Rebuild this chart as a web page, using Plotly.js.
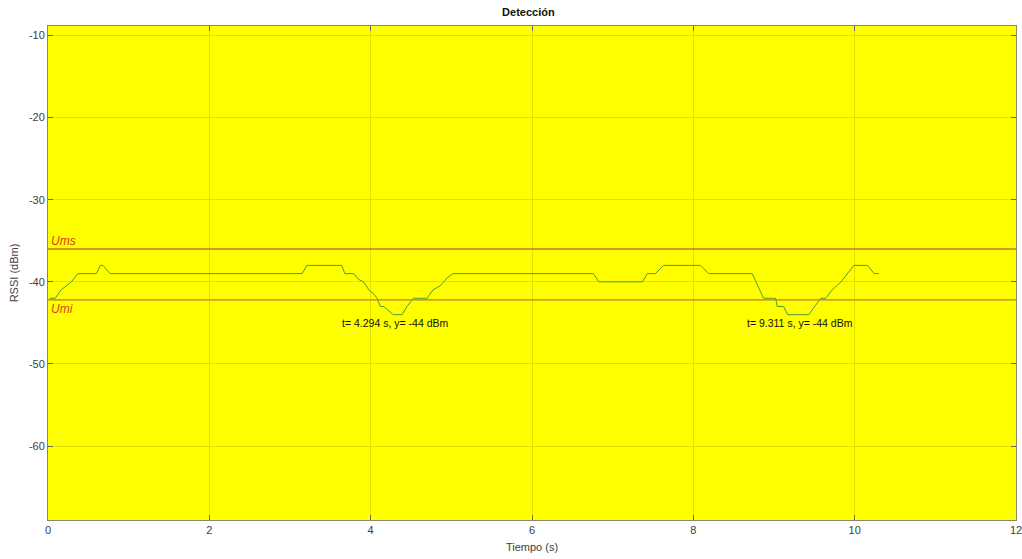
<!DOCTYPE html>
<html>
<head>
<meta charset="utf-8">
<script src="https://cdn.plot.ly/plotly-3.0.1.min.js"></script>
<style>html,body{margin:0;padding:0;background:#fff;}#chart{width:1022px;height:559px;}</style>
</head>
<body>
<div id="chart"></div>
<script>
// Signal (time in s, RSSI in dBm)
const tiempo = [0.02, 0.09, 0.16, 0.22, 0.29, 0.37, 0.60, 0.65, 0.68, 0.77,
                3.15, 3.21, 3.64, 3.68, 3.79, 3.85, 3.91, 3.98, 4.04, 4.08,
                4.12, 4.16, 4.22, 4.28, 4.39, 4.45, 4.53, 4.70, 4.77, 4.86,
                4.95, 5.02, 6.76, 6.83, 7.37, 7.43, 7.53, 7.63, 8.09, 8.19,
                8.73, 8.78, 8.83, 8.87, 9.02, 9.04, 9.12, 9.17, 9.43, 9.50,
                9.58, 9.64, 9.72, 9.83, 9.91, 9.99, 10.16, 10.24, 10.30];
const rssi   = [-42, -42, -41, -40.5, -40, -39, -39, -38, -38, -39,
                -39, -38, -38, -39, -39, -39.7, -40, -41, -41.5, -42,
                -43, -43, -43.5, -44, -44, -43, -42, -42, -41, -40.5,
                -39.5, -39, -39, -40, -40, -39, -39, -38, -38, -39,
                -39, -40, -41, -42, -42, -43, -43, -44, -44, -43,
                -42, -42, -41, -40, -39, -38, -38, -39, -39];
// Thresholds
const umbralNombres = ["Ums", "Umi"];
const umbralValores = [-36, -42.2];
// Annotated minima
const minT = [4.294, 9.311];
const minY = [-44, -44];
const minTextos = ["t= 4.294 s, y= -44 dBm", "t= 9.311 s, y= -44 dBm"];
const xTicks = [0, 2, 4, 6, 8, 10, 12];
const yTicks = [-10, -20, -30, -40, -50, -60];

const traces = [
  {x: tiempo, y: rssi, mode: 'lines', type: 'scatter',
   line: {color: '#4e9a3c', width: 1}, hoverinfo: 'skip', showlegend: false}
];
umbralValores.forEach(v => traces.push({
  x: [0, 12], y: [v, v], mode: 'lines', type: 'scatter',
  line: {color: '#c4782a', width: 1.3}, hoverinfo: 'skip', showlegend: false
}));

const annotations = [];
minT.forEach((t, i) => annotations.push({
  x: t - 0.67, y: minY[i] - 1, xref: 'x', yref: 'y', text: minTextos[i],
  showarrow: false, xanchor: 'left', yanchor: 'middle',
  font: {family: 'Liberation Sans, Arial, sans-serif', size: 10.5, color: '#111'}
}));
umbralNombres.forEach((nm, i) => annotations.push({
  x: 0.01, y: umbralValores[i] + (i === 0 ? 0.95 : -1.15), xref: 'x', yref: 'y',
  text: '<i>' + nm + '</i>', showarrow: false, xanchor: 'left', yanchor: 'middle',
  font: {family: 'Liberation Sans, Arial, sans-serif', size: 12, color: '#d9401e'}
}));

const axisCommon = {
  showgrid: true, gridcolor: '#e3e000', gridwidth: 1,
  showline: true, linecolor: '#8a8a60', linewidth: 1, mirror: 'ticks',
  ticks: 'inside', ticklen: 5, tickcolor: '#6a6a50',
  zeroline: false, ticklabeloverflow: 'allow',
  tickfont: {family: 'Liberation Sans, Arial, sans-serif', size: 11, color: '#404040'}
};

const layout = {
  width: 1022, height: 559,
  margin: {l: 48, r: 6, t: 26, b: 39},
  paper_bgcolor: '#ffffff', plot_bgcolor: '#ffff00',
  title: {text: '<b>Detección</b>', x: 0.517, xanchor: 'center', y: 0.985, yanchor: 'top',
          font: {family: 'Liberation Sans, Arial, sans-serif', size: 11, color: '#111'}},
  xaxis: Object.assign({}, axisCommon, {
    range: [0, 12], tickvals: xTicks, ticktext: xTicks.map(String),
    title: {text: 'Tiempo (s)', standoff: 8,
            font: {family: 'Liberation Sans, Arial, sans-serif', size: 11, color: '#404040'}}
  }),
  yaxis: Object.assign({}, axisCommon, {
    range: [-69, -8.85], tickvals: yTicks, ticktext: yTicks.map(String),
    title: {text: 'RSSI (dBm)', standoff: 8,
            font: {family: 'Liberation Sans, Arial, sans-serif', size: 11, color: '#404040'}}
  }),
  annotations: annotations,
  showlegend: false
};

Plotly.newPlot('chart', traces, layout, {displayModeBar: false, staticPlot: true});
</script>
</body>
</html>
